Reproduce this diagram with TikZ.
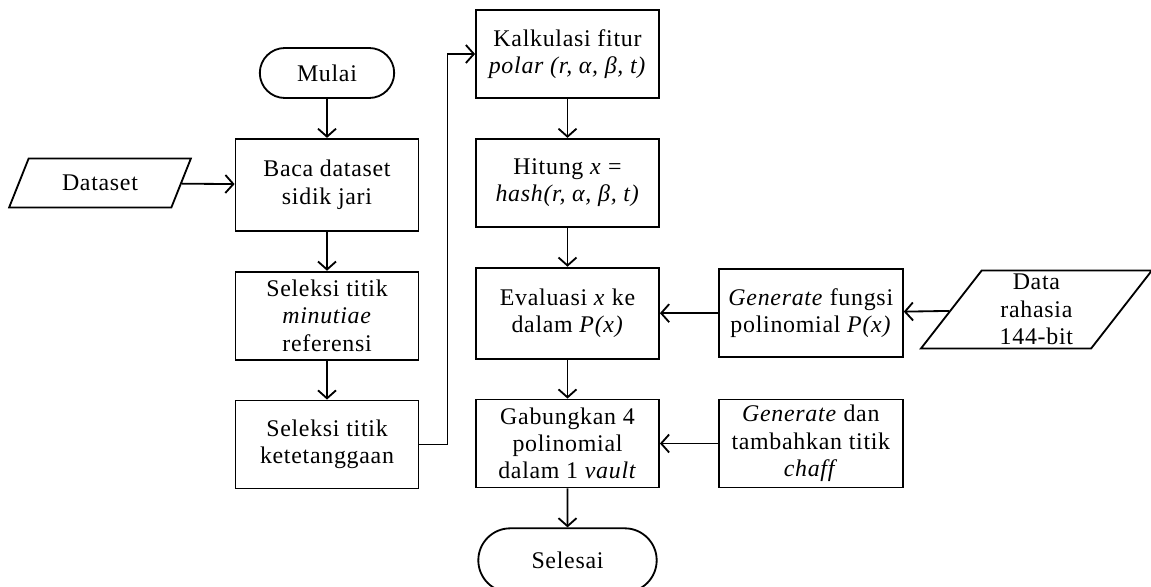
\documentclass[tikz,border=0pt]{standalone}
\usepackage{fontspec}
\setmainfont{Liberation Serif}[LetterSpace=3]
\usetikzlibrary{positioning, arrows.meta, shapes.geometric, shapes.misc}

\begin{document}
\begin{tikzpicture}[
  proc/.style={
    rectangle, draw, line width=1.3pt,
    minimum width=4.575cm, minimum height=2.2cm,
    font=\fontsize{17}{19.4}\selectfont, align=center, inner sep=2pt
  },
  term/.style={
    rounded rectangle, draw, line width=1.3pt,
    font=\fontsize{17}{19.4}\selectfont, inner sep=2pt
  },
  io/.style={
    trapezium, trapezium left angle=60, trapezium right angle=120,
    trapezium stretches=true, draw, line width=1.3pt,
    font=\fontsize{17}{19.4}\selectfont, align=center, inner sep=1pt
  },
  flow/.style={-{Straight Barb[length=2mm,width=4.5mm]}, line width=1.3pt},
]
\useasboundingbox (0,0) rectangle (28.775,-14.675);

% kolom kiri
\node[term, minimum width=3.5cm, minimum height=1.25cm] (mulai) at (8.175,-1.825) {Mulai};
\node[proc, minimum height=2.3cm, below=0.975cm of mulai] (baca) {Baca dataset\\sidik jari};
\node[proc, below=0.975cm of baca] (minu) {Seleksi titik\\\textit{minutiae}\\referensi};
\node[proc, below=0.975cm of minu] (tetangga) {Seleksi titik\\ketetanggaan};
\node[io, minimum width=4.55cm, minimum height=1.225cm] (dataset) at (2.5,-4.575) {Dataset};

% kolom tengah
\node[proc] (kalk) at (14.1875,-1.35) {Kalkulasi fitur\\\textit{polar (r, α, β, t)}};
\node[proc, below=0.975cm of kalk] (hitung) {Hitung \textit{x} =\\\textit{hash(r, α, β, t)}};
\node[proc, minimum height=2.275cm, below=0.975cm of hitung] (eval) {Evaluasi \textit{x} ke\\dalam \textit{P(x)}};
\node[proc, below=0.975cm of eval] (gab) {Gabungkan 4\\polinomial\\dalam 1 \textit{vault}};
\node[term, minimum width=4.6cm, minimum height=1.6cm, below=0.975cm of gab] (selesai) {Selesai};

% kolom kanan
\node[proc, minimum width=4.6cm, right=1.45cm of eval] (genf) {\textit{Generate} fungsi\\polinomial \textit{P(x)}};
\node[proc, minimum width=4.6cm, right=1.45cm of gab] (genc) {\textit{Generate} dan\\tambahkan titik\\\textit{chaff}};
\node[io, minimum width=5.775cm, minimum height=1.95cm] (rahasia) at (25.91,-7.7375) {Data\\rahasia\\144-bit};

% alur
\draw[flow] (mulai) -- (baca);
\draw[flow] (dataset) -- (baca);
\draw[flow] (baca) -- (minu);
\draw[flow] (minu) -- (tetangga);
\draw[flow] (tetangga.east) -- ++(0.7,0) |- (kalk.west);
\draw[flow] (kalk) -- (hitung);
\draw[flow] (hitung) -- (eval);
\draw[flow] (eval) -- (gab);
\draw[flow] (gab) -- (selesai);
\draw[flow] (rahasia) -- (genf);
\draw[flow] (genf) -- (eval);
\draw[flow] (genc) -- (gab);

\end{tikzpicture}
\end{document}
